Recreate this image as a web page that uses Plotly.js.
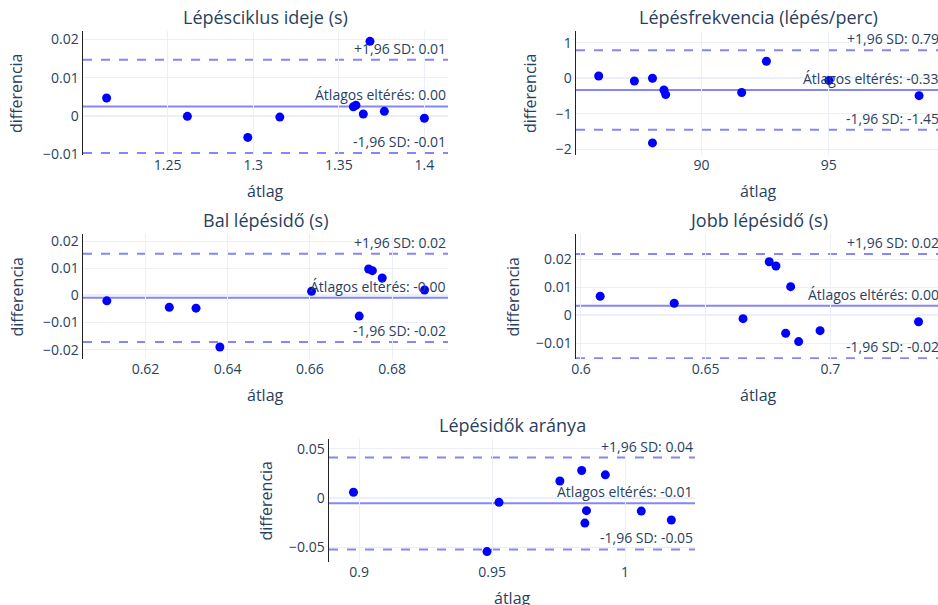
<!DOCTYPE html>
<html>
<head>
<meta charset="utf-8">
<script src="https://cdn.plot.ly/plotly-3.0.1.min.js"></script>
<style>
html,body{margin:0;padding:0;overflow:hidden;background:#fff;}
#chart{width:1024px;height:605px;}
</style>
</head>
<body>
<div id="chart"></div>
<script>
// ---- Data ----
const titles = ["Lépésciklus ideje (s)", "Lépésfrekvencia (lépés/perc)", "Bal lépésidő (s)", "Jobb lépésidő (s)", "Lépésidők aránya"];
const xTitle = "átlag";
const yTitle = "differencia";

const p1Avg  = [1.2143, 1.2615, 1.2968, 1.3155, 1.3585, 1.3600, 1.3643, 1.3682, 1.3766, 1.4000];
const p1Diff = [0.0047, -0.0001, -0.0056, -0.0003, 0.0024, 0.0028, 0.0005, 0.0195, 0.0012, -0.0006];

const p2Avg  = [85.97, 87.37, 88.08, 88.53, 88.60, 88.08, 91.58, 92.55, 95.00, 98.54];
const p2Diff = [0.065, -0.076, 0.0, -0.33, -0.46, -1.82, -0.40, 0.48, -0.06, -0.49];

const p3Avg  = [0.6106, 0.6258, 0.6323, 0.6381, 0.6604, 0.6720, 0.6743, 0.6752, 0.6776, 0.6879];
const p3Diff = [-0.0020, -0.0044, -0.0047, -0.0190, 0.0015, -0.0076, 0.0097, 0.0091, 0.0064, 0.0020];

const p4Avg  = [0.6077, 0.6374, 0.6650, 0.6755, 0.6782, 0.6821, 0.6841, 0.6873, 0.6959, 0.7354];
const p4Diff = [0.0068, 0.0043, -0.0012, 0.0191, 0.0176, -0.0064, 0.0102, -0.0094, -0.0055, -0.0023];

const p5Avg  = [0.8979, 0.9526, 0.9481, 0.9755, 0.9837, 0.9855, 0.9849, 0.9926, 1.0061, 1.0174];
const p5Diff = [0.0058, -0.0044, -0.0544, 0.0173, 0.0279, -0.0129, -0.0255, 0.0235, -0.0133, -0.0224];

// mean difference, +1.96 SD, -1.96 SD per panel
const meanDiff = [0.0025, -0.33, -0.0009, 0.0034, -0.0054];
const upperLoA = [0.0147, 0.79, 0.0153, 0.0219, 0.0411];
const lowerLoA = [-0.0097, -1.45, -0.0171, -0.0153, -0.0523];

const xTickStep = [0.05, 5, 0.02, 0.05, 0.05];
const yTickStep = [0.01, 1, 0.01, 0.01, 0.05];

const xRanges = [[1.2005, 1.4138], [85.08, 99.4], [0.6048, 0.6936], [0.598, 0.7444], [0.8887, 1.0263]];
const yRanges = [[-0.0102, 0.0222], [-2.16, 1.33], [-0.0234, 0.0226], [-0.0156, 0.029], [-0.065, 0.0599]];

const avgs  = [p1Avg, p2Avg, p3Avg, p4Avg, p5Avg];
const diffs = [p1Diff, p2Diff, p3Diff, p4Diff, p5Diff];

// ---- Layout geometry (pixels in a 1024 x 605 figure) ----
const W = 1024, H = 605;
const xDomPx = [[83, 448], [576, 941], [83, 448], [576, 941], [329, 695]];
const yDomPx = [[31, 155], [31, 155], [234, 359], [234, 359], [439, 562]];
const yTitleXPx = [16, 530, 16, 512, 265];

const txt = '#2a3f5f';
const grid = '#EBF0F8';
const lineCol = 'rgba(60,60,240,0.62)';

const data = [];
const layout = {
  width: W, height: H,
  margin: {l: 0, r: 0, t: 0, b: 0},
  paper_bgcolor: '#fff', plot_bgcolor: '#fff',
  font: {family: '"Open Sans", verdana, arial, sans-serif', size: 14, color: txt},
  showlegend: false,
  shapes: [], annotations: []
};

for (let i = 0; i < 5; i++) {
  const n = i + 1;
  const xa = 'x' + (n === 1 ? '' : n), ya = 'y' + (n === 1 ? '' : n);
  const xKey = 'xaxis' + (n === 1 ? '' : n), yKey = 'yaxis' + (n === 1 ? '' : n);
  data.push({
    type: 'scatter', mode: 'markers',
    x: avgs[i], y: diffs[i], xaxis: xa, yaxis: ya,
    marker: {color: '#0000ff', size: 9},
    hoverinfo: 'x+y'
  });
  layout[xKey] = {
    domain: [xDomPx[i][0] / W, xDomPx[i][1] / W],
    anchor: ya, range: xRanges[i], dtick: xTickStep[i],
    showgrid: true, gridcolor: grid, zeroline: false, showline: false,
    ticks: '', tickfont: {size: 14, color: txt}
  };
  layout[yKey] = {
    domain: [1 - yDomPx[i][1] / H, 1 - yDomPx[i][0] / H],
    anchor: xa, range: yRanges[i], dtick: yTickStep[i],
    showgrid: true, gridcolor: grid, zeroline: true, zerolinecolor: grid, zerolinewidth: 2,
    showline: true, linecolor: '#222', linewidth: 1.5,
    ticks: '', tickfont: {size: 14, color: txt}
  };
  const lines = [
    {v: upperLoA[i], dash: 'dash', label: '+1,96 SD: ' + upperLoA[i].toFixed(2)},
    {v: meanDiff[i], dash: 'solid', label: 'Átlagos eltérés: ' + meanDiff[i].toFixed(2)},
    {v: lowerLoA[i], dash: 'dash', label: '-1,96 SD: ' + lowerLoA[i].toFixed(2)}
  ];
  lines.forEach(l => {
    layout.shapes.push({
      type: 'line', xref: xa + ' domain', yref: ya,
      x0: 0, x1: 1, y0: l.v, y1: l.v,
      line: {color: lineCol, width: 2, dash: l.dash},
      layer: 'below'
    });
    layout.annotations.push({
      xref: xa + ' domain', yref: ya, x: 1, y: l.v,
      xanchor: 'right', yanchor: 'bottom', showarrow: false,
      text: l.label, font: {size: 14, color: txt}
    });
  });
  // subplot title
  layout.annotations.push({
    xref: 'paper', yref: 'paper',
    x: (xDomPx[i][0] + xDomPx[i][1]) / 2 / W, y: 1 - yDomPx[i][0] / H,
    xanchor: 'center', yanchor: 'bottom', yshift: 0, showarrow: false,
    text: titles[i], font: {size: 18, color: txt}
  });
  // x axis title
  layout.annotations.push({
    xref: 'paper', yref: 'paper',
    x: (xDomPx[i][0] + xDomPx[i][1]) / 2 / W, y: 1 - (yDomPx[i][1] + 36) / H,
    xanchor: 'center', yanchor: 'middle', showarrow: false,
    text: xTitle, font: {size: 16, color: txt}
  });
  // y axis title
  layout.annotations.push({
    xref: 'paper', yref: 'paper',
    x: yTitleXPx[i] / W, y: 1 - (yDomPx[i][0] + yDomPx[i][1]) / 2 / H,
    xanchor: 'center', yanchor: 'middle', textangle: -90, showarrow: false,
    text: yTitle, font: {size: 16, color: txt}
  });
}

Plotly.newPlot('chart', data, layout, {displayModeBar: false, staticPlot: true});
</script>
</body>
</html>
